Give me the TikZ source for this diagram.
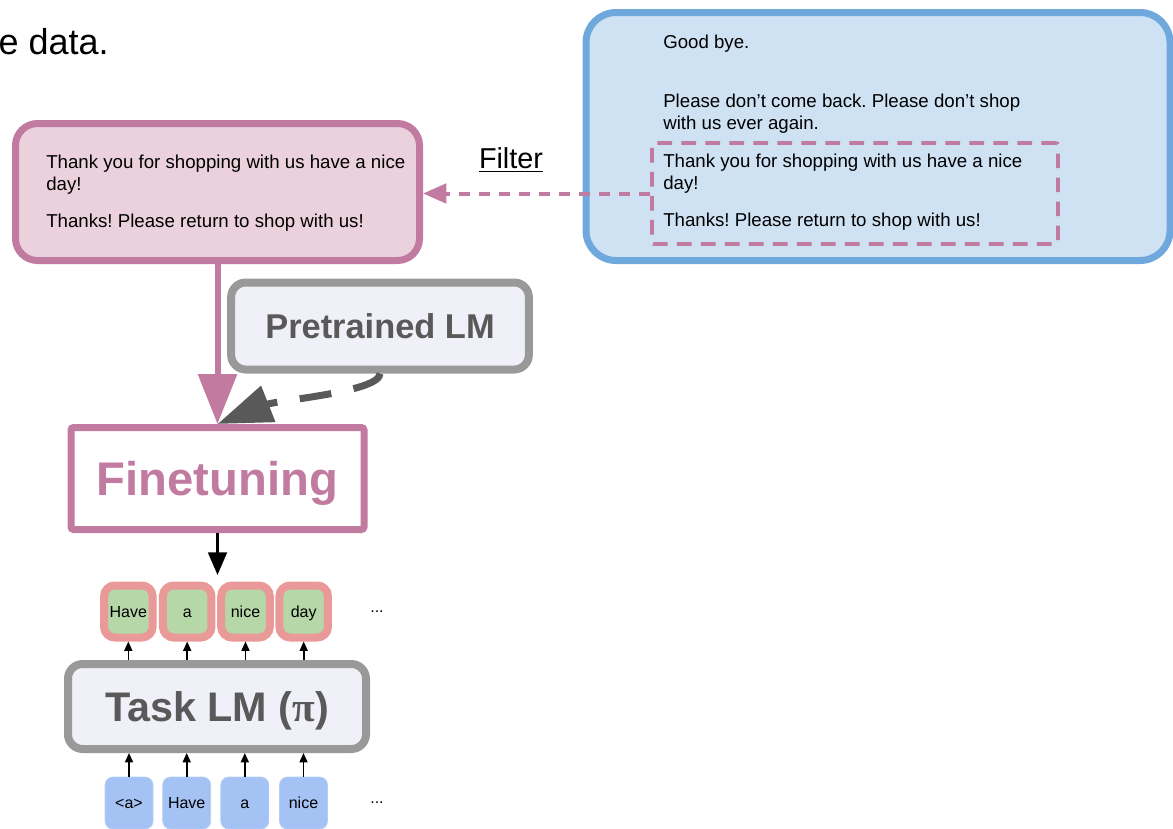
\documentclass[tikz,border=0pt]{standalone}
\usepackage{fontspec}
\setmainfont{Liberation Sans}
\newfontfamily\serifb{Liberation Serif}
\usetikzlibrary{arrows.meta}
\frenchspacing
\definecolor{pinkb}{HTML}{C27BA0}
\definecolor{pinkf}{HTML}{EAD1DC}
\definecolor{blueb}{HTML}{6FA8DC}
\definecolor{bluef}{HTML}{CFE2F3}
\definecolor{grayb}{HTML}{999999}
\definecolor{grayt}{HTML}{595959}
\definecolor{lavf}{HTML}{F0F0F8}
\definecolor{tokred}{HTML}{EA9999}
\definecolor{tokgreen}{HTML}{B6D7A8}
\definecolor{tokblue}{HTML}{A4C2F4}
\tikzset{
  txt/.style={anchor=base west, inner sep=0pt, font=\fontsize{14}{16}\selectfont},
  bigbox/.style={line width=5.25pt, inner sep=0pt},
  lmbox/.style={draw=grayb, fill=lavf, line width=6pt, rounded corners=11pt, text=grayt, inner sep=0pt, text depth=0pt},
  outtok/.style={draw=tokred, fill=tokgreen, line width=6pt, rounded corners=8pt, minimum width=36.4pt, minimum height=39pt, inner sep=0pt, text height=10pt, text depth=0.8pt, font=\fontsize{12}{14}\selectfont},
  intok/.style={fill=tokblue, draw=tokblue!80!white, line width=0.6pt, rounded corners=6pt, minimum width=36pt, minimum height=39pt, inner sep=0pt, text height=9.5pt, text depth=1.3pt, font=\fontsize{12}{14}\selectfont},
  smallarr/.style={line width=1.2pt, -{Triangle[length=7pt,width=6pt]}},
  dots/.style={font=\fontsize{12}{14}\selectfont, inner sep=0pt}
}
\begin{document}
\begin{tikzpicture}[x=0.75pt,y=-0.75pt]
\useasboundingbox (0,0) rectangle (1173,828);

% clipped heading text
\node[anchor=base east, inner sep=0pt, font=\fontsize{27}{30}\selectfont] (head) at (109,54) {e data.};

% pink box with filtered data
\node[bigbox, draw=pinkb, fill=pinkf, rounded corners=16.5pt, minimum width=303pt, minimum height=102.75pt] (pinkbox) at (217.5,192) {};
\node[txt] (pt1) at (46,168) {Thank you for shopping with us have a nice};
\node[txt] (pt2) at (46,190) {day!};
\node[txt] (pt3) at (46,227) {Thanks! Please return to shop with us!};

% blue box with all data
\node[bigbox, draw=blueb, fill=bluef, rounded corners=22.5pt, minimum width=438pt, minimum height=186pt] (bluebox) at (878,136.5) {};
\node[txt] (bt1) at (663,48) {Good bye.};
\node[txt] (bt2) at (663,107) {Please don’t come back. Please don’t shop};
\node[txt] (bt3) at (663,129) {with us ever again.};
\node[draw=pinkb, line width=2.8pt, dash pattern=on 11pt off 7pt, rounded corners=1.5pt, minimum width=304.5pt, minimum height=75.75pt, inner sep=0pt] (dashrect) at (855,193.5) {};
\node[txt] (bt4) at (663,167) {Thank you for shopping with us have a nice};
\node[txt] (bt5) at (663,189) {day!};
\node[txt] (bt6) at (663,226) {Thanks! Please return to shop with us!};

% filter
\node[inner sep=0pt, font=\fontsize{21.6}{24}\selectfont] (filter) at (511,160) {\underline{Filter}};
\draw[pinkb, line width=3pt, dash pattern=on 8pt off 7pt, -{Triangle[length=17.5pt,width=14.5pt]}] (dashrect.west) -- (pinkbox.east |- dashrect.west);

% pretrained LM
\node[lmbox, minimum width=223.3pt, minimum height=65.25pt, font=\bfseries\fontsize{25.8}{28}\selectfont] (pre) at (380,326) {Pretrained LM};

% finetuning
\node[bigbox, draw=pinkb, fill=white, rounded corners=2pt, minimum width=219.75pt, minimum height=76.5pt, text=pinkb, text depth=0pt, font=\bfseries\fontsize{35.4}{38}\selectfont] (fine) at (217.5,478.5) {Finetuning};

\draw[pinkb, line width=4.5pt, -{Triangle[length=37.5pt,width=28.5pt]}] (pinkbox.south -| fine.north) -- (fine.north);
\draw[grayt, line width=5.25pt, dash pattern=on 24pt off 17pt, -{Triangle[length=41pt,width=28pt]}] (pre.south) .. controls (380,392) and (278,400) .. (fine.north);

% output tokens
\node[outtok] (o1) at (128.3,611.5) {Have};
\node[outtok] (o2) at (187.2,611.5) {a};
\node[outtok] (o3) at (245.5,611.5) {nice};
\node[outtok] (o4) at (303.7,611.5) {day};
\node[dots] (odots) at (377,612) {...};

\coordinate (fineend) at (217.5,575);
\draw[line width=2.2pt, -{Triangle[length=17pt,width=14pt]}] (fine.south) -- (fineend);

% task LM
\node[lmbox, minimum width=223.5pt, minimum height=63.75pt, font=\bfseries\fontsize{31}{34}\selectfont] (task) at (217,706.5) {Task LM ({\serifb\bfseries π})};

% input tokens
\node[intok] (i1) at (129,803) {<a>};
\node[intok] (i2) at (186.7,803) {Have};
\node[intok] (i3) at (244.8,803) {a};
\node[intok] (i4) at (303.5,803) {nice};
\node[dots] (idots) at (377,803) {...};

\foreach \k in {1,2,3,4}{
  \draw[smallarr] (o\k.south |- task.north) -- (o\k.south);
  \draw[smallarr] (i\k.north) -- (i\k.north |- task.south);
}
\end{tikzpicture}
\end{document}
